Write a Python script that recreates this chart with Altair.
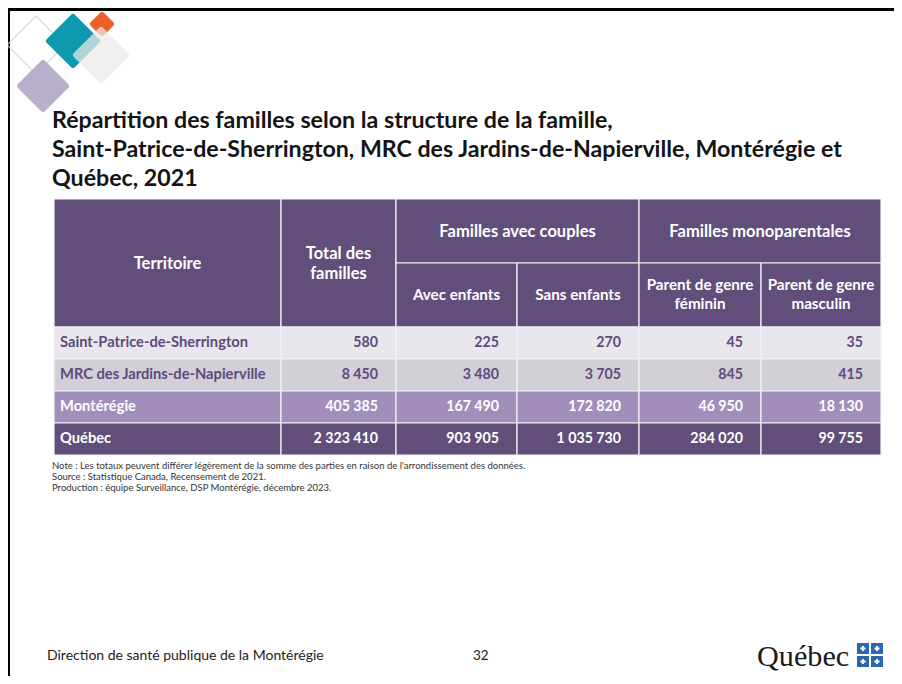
import altair as alt
import pandas as pd

# ---------------- data ----------------
territoires = ["Saint-Patrice-de-Sherrington", "MRC des Jardins-de-Napierville", "Montérégie", "Québec"]
total_familles = [580, 8450, 405385, 2323410]
couples_avec_enfants = [225, 3480, 167490, 903905]
couples_sans_enfants = [270, 3705, 172820, 1035730]
mono_feminin = [45, 845, 46950, 284020]
mono_masculin = [35, 415, 18130, 99755]

title_lines = [
    "Répartition des familles selon la structure de la famille,",
    "Saint-Patrice-de-Sherrington, MRC des Jardins-de-Napierville, Montérégie et",
    "Québec, 2021",
]
header_territoire = "Territoire"
header_total = ["Total des", "familles"]
header_groups = ["Familles avec couples", "Familles monoparentales"]
header_sub = [["Avec enfants"], ["Sans enfants"], ["Parent de genre", "féminin"], ["Parent de genre", "masculin"]]
notes = [
    "Note : Les totaux peuvent différer légèrement de la somme des parties en raison de l'arrondissement des données.",
    "Source : Statistique Canada, Recensement de 2021.",
    "Production : équipe Surveillance, DSP Montérégie, décembre 2023.",
]
footer_left = "Direction de santé publique de la Montérégie"
page_number = "32"
logo_text = "Québec"

# ---------------- layout / style ----------------
COL = [54, 281, 396, 517, 639, 761, 881]
HEAD_TOP, HEAD_MID, HEAD_BOT = 199, 263, 327
ROWS = [327, 359, 391, 423, 455]
HEAD_COLOR = "#624E7B"
ROW_FILL = ["#E9E7ED", "#D3CFD7", "#A18EBA", "#624E7B"]
ROW_TEXT = ["#5E4A7C", "#5E4A7C", "#FFFFFF", "#FFFFFF"]
FONT = "Lato"

def fmt(v):
    return f"{v:,}".replace(",", " ")

XS = alt.Scale(domain=[8, 894], nice=False, zero=False)
YS = alt.Scale(domain=[8, 676], nice=False, zero=False, reverse=True)

# ---------------- table cells ----------------
cells = []
cells.append(dict(x=COL[0], x2=COL[1], y=HEAD_TOP, y2=HEAD_BOT, fill=HEAD_COLOR))
cells.append(dict(x=COL[1], x2=COL[2], y=HEAD_TOP, y2=HEAD_BOT, fill=HEAD_COLOR))
cells.append(dict(x=COL[2], x2=COL[4], y=HEAD_TOP, y2=HEAD_MID, fill=HEAD_COLOR))
cells.append(dict(x=COL[4], x2=COL[6], y=HEAD_TOP, y2=HEAD_MID, fill=HEAD_COLOR))
for j in range(4):
    cells.append(dict(x=COL[2 + j], x2=COL[3 + j], y=HEAD_MID, y2=HEAD_BOT, fill=HEAD_COLOR))
for i in range(len(territoires)):
    for j in range(6):
        cells.append(dict(x=COL[j], x2=COL[j + 1], y=ROWS[i], y2=ROWS[i + 1], fill=ROW_FILL[i]))
cells_df = pd.DataFrame(cells)

cells_layer = alt.Chart(cells_df).mark_rect(stroke="#F4F2F6", strokeWidth=1.2).encode(
    x=alt.X("x:Q", scale=XS, axis=None), x2="x2:Q",
    y=alt.Y("y:Q", scale=YS, axis=None), y2="y2:Q",
    fill=alt.Fill("fill:N", scale=None),
)

# ---------------- texts ----------------
def text_layer(rows, align="left", weight="normal", font=FONT, baseline="middle"):
    df = pd.DataFrame(rows)
    return alt.Chart(df).mark_text(align=align, baseline=baseline, fontWeight=weight, font=font).encode(
        x=alt.X("x:Q", scale=XS, axis=None),
        y=alt.Y("y:Q", scale=YS, axis=None),
        text="text:N",
        color=alt.Color("color:N", scale=None),
        size=alt.Size("size:Q", scale=None),
    )

title_rows = [dict(x=52, y=128 + 29 * k, text=t, color="#141414", size=23.2) for k, t in enumerate(title_lines)]
hw = "#FFFFFF"
hs = 16.5
ss = 15.2
head_rows = [dict(x=(COL[0] + COL[1]) / 2, y=264, text=header_territoire, color=hw, size=hs)]
head_rows += [dict(x=(COL[1] + COL[2]) / 2, y=254 + 20 * k, text=t, color=hw, size=hs) for k, t in enumerate(header_total)]
head_rows += [dict(x=(COL[2] + COL[4]) / 2, y=232, text=header_groups[0], color=hw, size=hs)]
head_rows += [dict(x=(COL[4] + COL[6]) / 2, y=232, text=header_groups[1], color=hw, size=hs)]
for j, lines in enumerate(header_sub):
    cx = (COL[2 + j] + COL[3 + j]) / 2
    if len(lines) == 1:
        head_rows.append(dict(x=cx, y=295, text=lines[0], color=hw, size=ss))
    else:
        for k, t in enumerate(lines):
            head_rows.append(dict(x=cx, y=285 + 19 * k, text=t, color=hw, size=ss))

name_rows, num_rows = [], []
series = [total_familles, couples_avec_enfants, couples_sans_enfants, mono_feminin, mono_masculin]
for i, name in enumerate(territoires):
    cy = (ROWS[i] + ROWS[i + 1]) / 2
    name_rows.append(dict(x=COL[0] + 6, y=cy, text=name, color=ROW_TEXT[i], size=14.7))
    for j, s in enumerate(series):
        num_rows.append(dict(x=COL[j + 2] - 18, y=cy, text=fmt(s[i]), color=ROW_TEXT[i], size=14.2))

note_rows = [dict(x=52, y=466 + 11 * k, text=t, color="#333333", size=9.5) for k, t in enumerate(notes)]
footer_rows = [dict(x=47, y=656, text=footer_left, color="#222222", size=14),
               dict(x=473, y=656, text=page_number, color="#222222", size=13.5)]
logo_rows = [dict(x=757, y=666, text=logo_text, color="#1A1A1A", size=30.2)]

# ---------------- decorations ----------------
border_df = pd.DataFrame([
    dict(x=8, x2=894, y=9.5, y2=9.5),
    dict(x=8.5, x2=8.5, y=8, y2=676),
])
border_layer = alt.Chart(border_df).mark_rule(color="#000000", strokeWidth=3).encode(
    x=alt.X("x:Q", scale=XS, axis=None), x2="x2:Q",
    y=alt.Y("y:Q", scale=YS, axis=None), y2="y2:Q",
)

def dsize(h):
    return (2 * h) ** 2

diam_outline = pd.DataFrame([dict(x=36, y=45, size=dsize(29))])
outline_layer = alt.Chart(diam_outline).mark_point(shape="diamond", filled=False, stroke="#CDD5C8",
                                                   strokeWidth=1.5, strokeJoin="round").encode(
    x=alt.X("x:Q", scale=XS, axis=None), y=alt.Y("y:Q", scale=YS, axis=None),
    size=alt.Size("size:Q", scale=None),
)
diam_df = pd.DataFrame([
    dict(x=43, y=86, size=dsize(23), fill="#B8B0CB", op=1.0),
    dict(x=73, y=41, size=dsize(24), fill="#0E9AAE", op=1.0),
    dict(x=102, y=24, size=dsize(9), fill="#E8622A", op=1.0),
    dict(x=101, y=55, size=dsize(25), fill="#EEEBEA", op=0.72),
])
diam_layer = alt.Chart(diam_df).mark_point(shape="diamond", filled=True, strokeWidth=6, strokeJoin="round").encode(
    x=alt.X("x:Q", scale=XS, axis=None), y=alt.Y("y:Q", scale=YS, axis=None),
    size=alt.Size("size:Q", scale=None),
    fill=alt.Fill("fill:N", scale=None),
    stroke=alt.Stroke("fill:N", scale=None),
    opacity=alt.Opacity("op:Q", scale=None),
)

flag_df = pd.DataFrame([
    dict(x=857, x2=869, y=643, y2=654), dict(x=871, x2=883, y=643, y2=654),
    dict(x=857, x2=869, y=656, y2=667), dict(x=871, x2=883, y=656, y2=667),
])
flag_layer = alt.Chart(flag_df).mark_rect(fill="#2A67AE").encode(
    x=alt.X("x:Q", scale=XS, axis=None), x2="x2:Q",
    y=alt.Y("y:Q", scale=YS, axis=None), y2="y2:Q",
)
flag_sym = pd.DataFrame([dict(x=(r["x"] + r["x2"]) / 2, y=(r["y"] + r["y2"]) / 2) for _, r in flag_df.iterrows()])
flag_sym_layer = alt.Chart(flag_sym).mark_point(shape="cross", filled=True, color="#FFFFFF", size=26, opacity=1).encode(
    x=alt.X("x:Q", scale=XS, axis=None), y=alt.Y("y:Q", scale=YS, axis=None),
)

chart = alt.layer(
    border_layer,
    outline_layer,
    diam_layer,
    cells_layer,
    text_layer(title_rows, "left", "bold", baseline="alphabetic"),
    text_layer(head_rows, "center", "bold"),
    text_layer(name_rows, "left", "bold"),
    text_layer(num_rows, "right", "bold"),
    text_layer(note_rows, "left", "normal"),
    text_layer(footer_rows, "left", "normal"),
    text_layer(logo_rows, "left", "normal", font="Liberation Serif", baseline="alphabetic"),
    flag_layer,
    flag_sym_layer,
).properties(width=886, height=668, padding=0, autosize="none", background="#FFFFFF").configure_view(stroke=None)

chart.save("out.html", embed_options={"renderer": "svg", "actions": False})
